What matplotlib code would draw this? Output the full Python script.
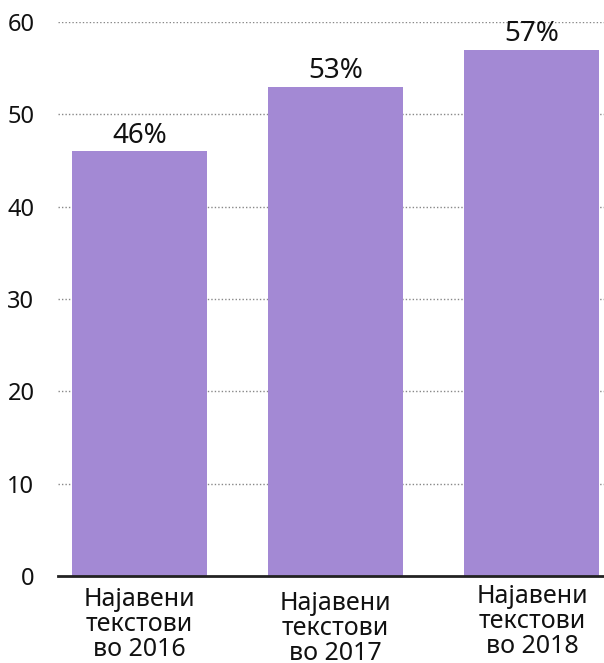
import matplotlib
matplotlib.use("Agg")
import matplotlib.pyplot as plt
import matplotlib.transforms as mtransforms

plt.rcParams['font.family'] = ['Noto Sans', 'DejaVu Sans']

categories = ["Најавени\nтекстови\nво 2016", "Најавени\nтекстови\nво 2017", "Најавени\nтекстови\nво 2018"]
values = [46, 53, 57]
value_labels = ["46%", "53%", "57%"]
yticks = [0, 10, 20, 30, 40, 50, 60]

bar_color = "#A389D4"

fig = plt.figure(figsize=(6.04, 6.63), dpi=100)
ax = fig.add_axes([58/604, 87/663, 546/604, 554/663])

x = list(range(len(categories)))
bars = ax.bar(x, values, width=0.688, color=bar_color, zorder=2)

ax.set_ylim(0, 60)
ax.set_xlim(-0.415, 2.367)
ax.set_yticks(yticks)
ax.set_yticklabels([str(t) for t in yticks], fontsize=17, color="#111111", fontweight='light')
ax.tick_params(axis='y', length=0, pad=17)
ax.tick_params(axis='x', length=0)
ax.set_xticks([])

for t in yticks[1:]:
    ax.axhline(t, color="#888888", linestyle=(0, (1, 1.5)), linewidth=1.0, zorder=1)

for s in ['left', 'right', 'top']:
    ax.spines[s].set_visible(False)
ax.spines['bottom'].set_color("#222222")
ax.spines['bottom'].set_linewidth(2)
ax.spines['bottom'].set_zorder(3)

for xi, v, lab in zip(x, values, value_labels):
    ax.annotate(lab, (xi, v), xytext=(0, 6), textcoords='offset points',
                ha='center', va='baseline', fontsize=20, color="#111111", fontweight='light')

# category labels with slight vertical stagger as in reference
offsets_px = [0, 4, -3]
trans = mtransforms.blended_transform_factory(ax.transData, ax.transAxes)
for xi, cat, off in zip(x, categories, offsets_px):
    ax.text(xi, 0, cat, transform=trans + mtransforms.ScaledTranslation(0, -(11 + off) / 100, fig.dpi_scale_trans),
            ha='center', va='top', fontsize=18, color="#111111", linespacing=1.0, fontweight='light')

fig.savefig("out.png", dpi=100)
